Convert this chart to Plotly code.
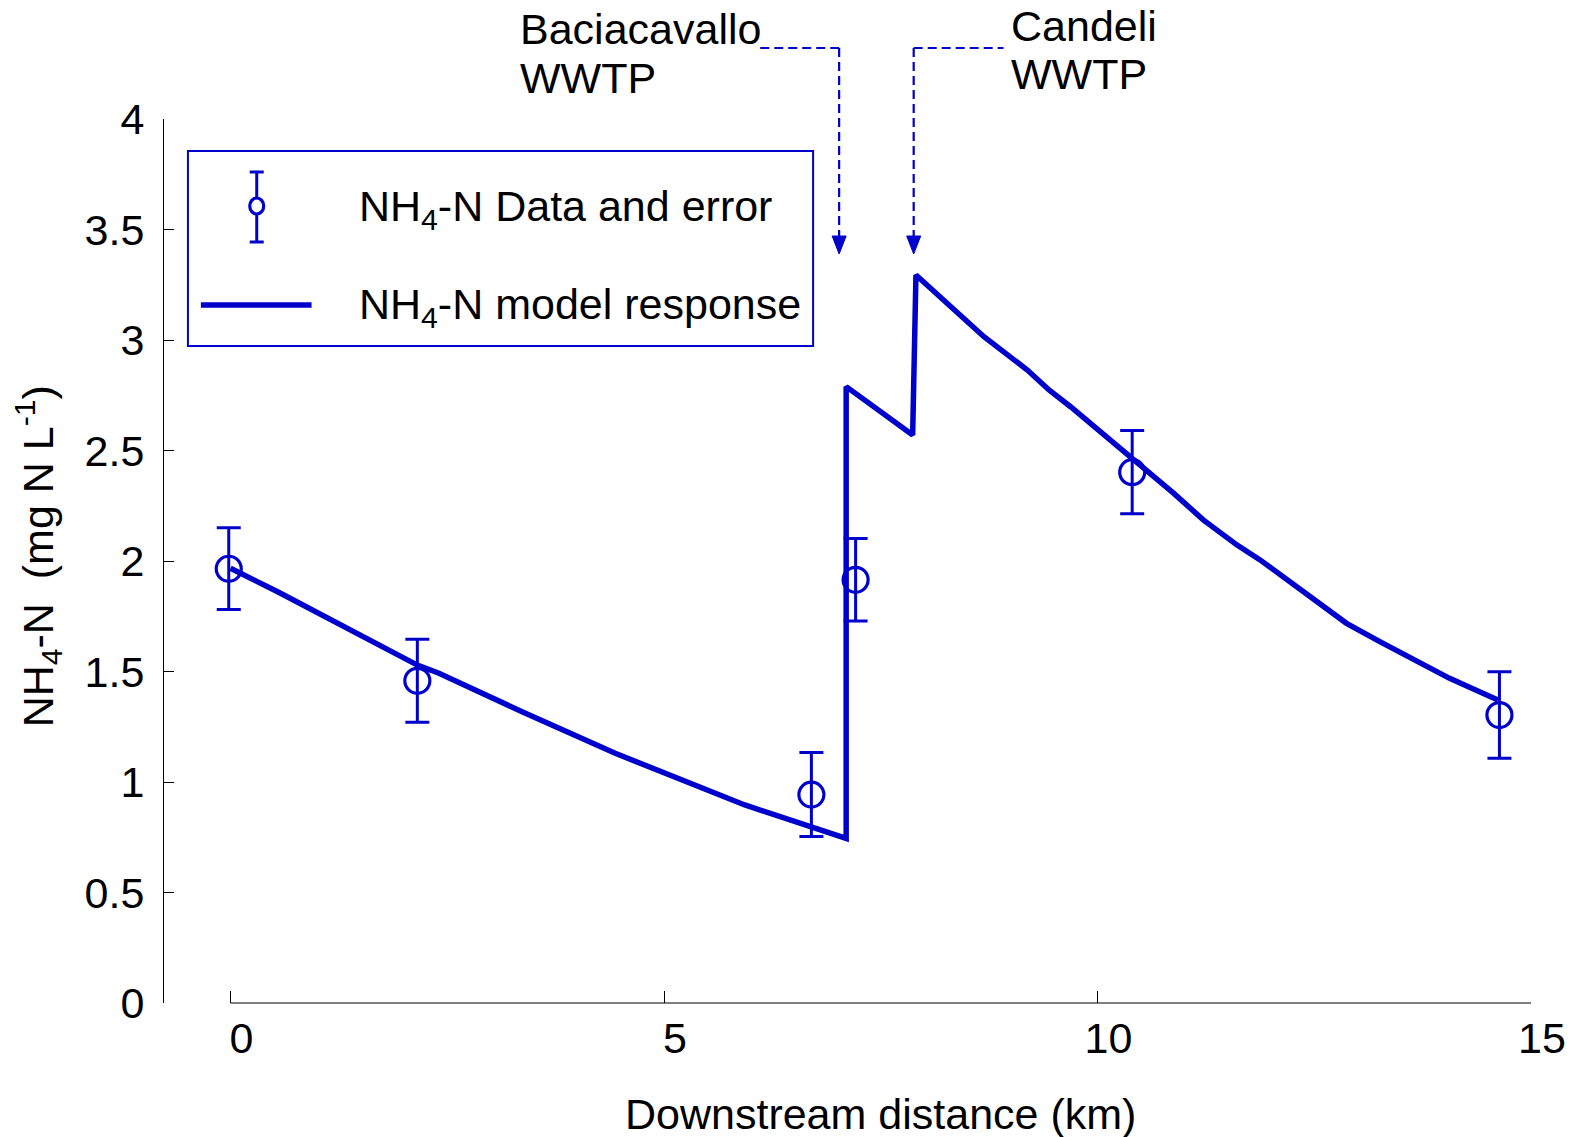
import plotly.graph_objects as go

# measured data (NH4-N, mg N/L) and error
data_km = [-0.02, 2.155, 6.70, 7.21, 10.40, 14.636]
data_nh4 = [1.965, 1.458, 0.943, 1.915, 2.402, 1.303]
data_err = [0.185, 0.188, 0.19, 0.187, 0.188, 0.196]

# model response
model_km = [0.0, 0.544, 2.155, 2.404, 3.363, 4.437, 5.932, 7.101,
            7.101, 7.868, 7.906, 8.69, 9.191, 9.441, 9.689, 10.38,
            10.88, 11.22, 11.61, 11.875, 12.335, 12.872, 13.256, 14.061, 14.618]
model_nh4 = [1.967, 1.861, 1.529, 1.492, 1.318, 1.130, 0.896, 0.745,
             2.789, 2.570, 3.294, 3.015, 2.864, 2.774, 2.698, 2.472,
             2.306, 2.186, 2.072, 2.005, 1.869, 1.718, 1.635, 1.469, 1.371]

# WWTP discharge points
wwtp_names = ["Baciacavallo", "Candeli"]
wwtp_km = [7.02, 7.88]

x_ticks = [0, 5, 10, 15]
y_ticks = [0, 0.5, 1, 1.5, 2, 2.5, 3, 3.5, 4]
y_ticktext = ["0", "0.5", "1", "1.5", "2", "2.5", "3", "3.5", "4"]

BLUE = "#0000CC"
FONT = "Liberation Sans, Arial, sans-serif"
FS = 43

# page body has an 8px margin, so the figure is drawn 8px in from the window corner
OFF = 8
W, H = 1578 - OFF, 1137 - OFF
L, T = 164 - OFF, 119 - OFF
R, B = W - (1535 - OFF), H - (1003 - OFF)
PW, PH = W - L - R, H - T - B
XMIN, XMAX = -0.767, 15


def xp(px):
    # window pixel -> paper fraction
    return (px - OFF - L) / PW


def yp(py):
    return (T + PH - (py - OFF)) / PH


def kmp(km):
    return (km - XMIN) / (XMAX - XMIN)


fig = go.Figure()

fig.add_trace(go.Scatter(
    x=model_km, y=model_nh4, mode="lines",
    line=dict(color=BLUE, width=5.5), showlegend=False,
))
fig.add_trace(go.Scatter(
    x=data_km, y=data_nh4, mode="markers",
    marker=dict(symbol="circle-open", size=25, color=BLUE, line=dict(width=3.2, color=BLUE)),
    error_y=dict(type="data", array=data_err, visible=True, color=BLUE, thickness=3, width=12),
    showlegend=False,
))

shapes = []
# x axis line from 0 to 15 only
shapes.append(dict(type="line", xref="paper", yref="paper", x0=kmp(0), x1=kmp(15), y0=0, y1=0,
                   line=dict(color="black", width=1)))

# WWTP dashed pointers
dash_y = yp(48)
tip_y = yp(254)
base_y = tip_y + 17 / PH
horiz = [(xp(762), kmp(wwtp_km[0])), (kmp(wwtp_km[1]), xp(1006))]
for km, (hx0, hx1) in zip(wwtp_km, horiz):
    shapes.append(dict(type="line", xref="paper", yref="paper", x0=kmp(km), x1=kmp(km),
                       y0=dash_y, y1=base_y, line=dict(color=BLUE, width=2.2, dash="9px,5px")))
    shapes.append(dict(type="line", xref="paper", yref="paper", x0=hx0, x1=hx1,
                       y0=dash_y, y1=dash_y, line=dict(color=BLUE, width=2.2, dash="9px,5px")))
    shapes.append(dict(type="path", xref="paper", yref="paper", xsizemode="pixel", ysizemode="pixel",
                       xanchor=kmp(km), yanchor=tip_y, path="M0,0 L-7,18 L7,18 Z",
                       fillcolor=BLUE, line=dict(color=BLUE, width=1)))

# legend box
shapes.append(dict(type="rect", xref="paper", yref="paper", x0=xp(188), x1=xp(815),
                   y0=yp(346), y1=yp(151), line=dict(color=BLUE, width=2)))
# legend glyph: error bar with circle
shapes.append(dict(type="line", xref="paper", yref="paper", x0=xp(257), x1=xp(257),
                   y0=yp(242), y1=yp(172), line=dict(color=BLUE, width=3)))
for cy in (172, 242):
    shapes.append(dict(type="line", xref="paper", yref="paper", x0=xp(250), x1=xp(264),
                       y0=yp(cy), y1=yp(cy), line=dict(color=BLUE, width=3)))
shapes.append(dict(type="circle", xref="paper", yref="paper", x0=xp(250), x1=xp(264),
                   y0=yp(214), y1=yp(198), line=dict(color=BLUE, width=3.2), fillcolor="white"))
# legend glyph: model line
shapes.append(dict(type="line", xref="paper", yref="paper", x0=xp(201), x1=xp(312),
                   y0=yp(305), y1=yp(305), line=dict(color=BLUE, width=5.5)))

ann = []
ann.append(dict(text="NH<sub>4</sub>-N Data and error", xref="paper", yref="paper",
                x=xp(358), y=yp(209), xanchor="left", yanchor="middle", showarrow=False))
ann.append(dict(text="NH<sub>4</sub>-N model response", xref="paper", yref="paper",
                x=xp(358), y=yp(307), xanchor="left", yanchor="middle", showarrow=False))
# WWTP labels, one annotation per line for tighter line spacing
label_pos = [(519, 29, 78), (1011, 26, 74)]
for name, (lx, y1, y2) in zip(wwtp_names, label_pos):
    ann.append(dict(text=name, xref="paper", yref="paper", x=xp(lx), y=yp(y1),
                    xanchor="left", yanchor="middle", showarrow=False))
    ann.append(dict(text="WWTP", xref="paper", yref="paper", x=xp(lx), y=yp(y2),
                    xanchor="left", yanchor="middle", showarrow=False))
ann.append(dict(text="NH<sub>4</sub>-N\u00a0\u00a0(mg N L<sup>-1</sup>)", xref="paper", yref="paper",
                x=xp(38), y=yp(556), textangle=-90, xanchor="center", yanchor="middle", showarrow=False))
ann.append(dict(text="Downstream distance (km)", xref="paper", yref="paper",
                x=kmp(7.5), y=yp(1114), xanchor="center", yanchor="middle", showarrow=False))

fig.update_layout(
    width=W, height=H,
    margin=dict(l=L, r=R, t=T, b=B),
    paper_bgcolor="white", plot_bgcolor="white",
    font=dict(family=FONT, size=FS, color="black"),
    shapes=shapes, annotations=ann, showlegend=False,
    xaxis=dict(range=[XMIN, XMAX], tickvals=x_ticks, ticktext=[str(v) for v in x_ticks],
               ticks="inside", ticklen=12, tickcolor="black", showline=False, showgrid=False,
               zeroline=False, ticklabelshift=11, ticklabelstandoff=6),
    yaxis=dict(range=[0, 4], tickvals=y_ticks, ticktext=y_ticktext,
               ticks="inside", ticklen=10, tickcolor="black", showline=True, linecolor="black",
               linewidth=1, showgrid=False, zeroline=False, ticklabelstandoff=10),
)

fig.write_html("out.html")
